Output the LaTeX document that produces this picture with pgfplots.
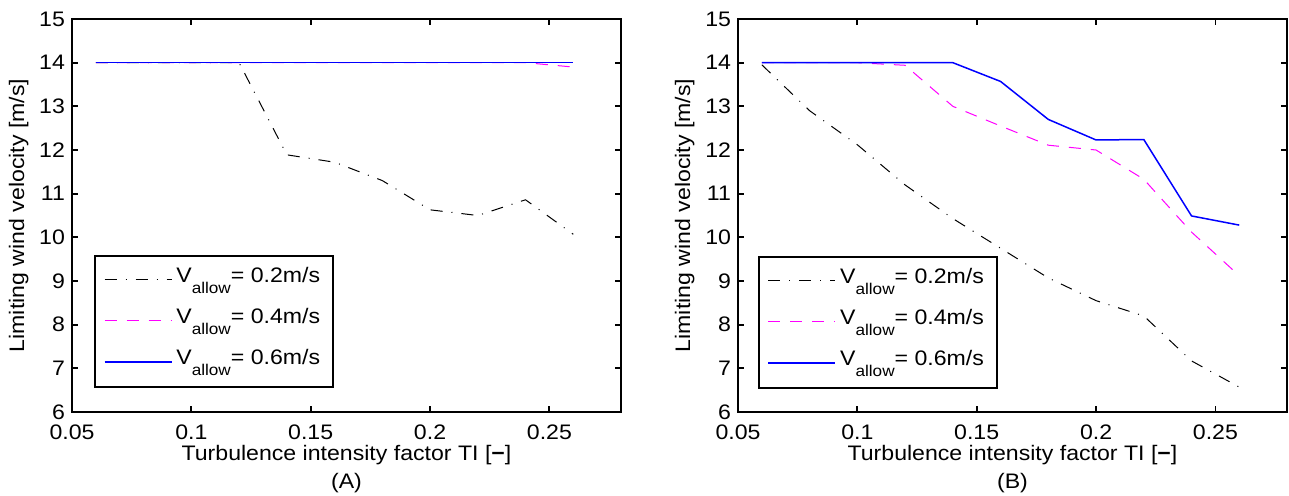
\documentclass[border=0pt]{standalone}
\usepackage{fontspec}
\setmainfont{Liberation Sans}[FakeStretch=1.1]
\usepackage{pgfplots}
\pgfplotsset{compat=1.18}
\newcommand\sub[1]{\raisebox{-5.5pt}{\fontsize{7.8}{8}\selectfont #1}}
\definecolor{mag}{rgb}{1,0,1}
\definecolor{blu}{rgb}{0,0,1}
\pgfplotsset{
  myaxis/.style={
    scale only axis, width=274.5pt, height=196.5pt,
    xmin=0.05, xmax=0.28, ymin=6, ymax=15,
    xtick={0.05,0.1,0.15,0.2,0.25}, xticklabels={0.05,0.1,0.15,0.2,0.25},
    ytick={6,7,8,9,10,11,12,13,14,15}, yticklabels={6,7,8,9,10,11,12,13,14,15},
    tick align=inside, tick pos=both,
    major tick length=3pt,
    axis line style={line width=0.9pt},
    every tick/.style={line width=0.9pt, black},
    font=\fontsize{10.5}{14}\selectfont,
    tick label style={font=\fontsize{10.5}{14}\selectfont},
    xticklabel style={yshift=-3pt},
    ylabel={Limiting wind velocity [m/s]},
    ylabel style={at={(axis description cs:-0.097,0.5)}, anchor=center, inner sep=0pt},
    xlabel style={at={(axis description cs:0.5,0)}, anchor=north, yshift=-16.5pt, inner sep=0pt, align=center},
    legend cell align=left,
    legend style={anchor=south west, draw=black, line width=0.9pt, fill=white,
      inner xsep=4.5pt, inner ysep=3.6pt, row sep=3.2pt, column sep=0pt,
      nodes={inner sep=2pt, text height=7.5pt, text depth=5.8pt},
      font=\fontsize{10.5}{14}\selectfont},
    legend image code/.code={\draw[#1] (0pt,0.4pt) -- (33.5pt,0.4pt);},
  },
  ddot/.style={black, line width=0.5pt, dash pattern=on 6pt off 4.5pt on 0.5pt off 4.5pt},
  ddash/.style={mag, line width=0.5pt, dash pattern=on 6pt off 5pt},
  dsolid/.style={blu, line width=0.75pt},
}
\begin{document}
\begin{tikzpicture}
\path[use as bounding box] (0,0) rectangle (644.5pt,248pt);
\begin{axis}[myaxis, at={(36pt,42pt)}, anchor=south west,
  xlabel={Turbulence intensity factor TI [\textbf{−}]\\(A)},
  legend style={at={(0.04,0.061)}}]
\addplot[ddot] coordinates {(0.06,14)(0.08,14)(0.1,14)(0.12,14)(0.14,11.89)(0.16,11.72)(0.18,11.3)(0.2,10.63)(0.22,10.5)(0.24,10.86)(0.26,10.07)};
\addplot[ddash] coordinates {(0.06,14)(0.08,14)(0.1,14)(0.12,14)(0.14,14)(0.16,14)(0.18,14)(0.2,14)(0.22,14)(0.24,14)(0.26,13.9)};
\addplot[dsolid] coordinates {(0.06,14)(0.08,14)(0.1,14)(0.12,14)(0.14,14)(0.16,14)(0.18,14)(0.2,14)(0.22,14)(0.24,14)(0.26,14)};
\addlegendentry{V\sub{allow}= 0.2m/s}
\addlegendentry{V\sub{allow}= 0.4m/s}
\addlegendentry{V\sub{allow}= 0.6m/s}
\end{axis}
\begin{axis}[myaxis, at={(369pt,42pt)}, anchor=south west,
  xlabel={Turbulence intensity factor TI [\textbf{−}]\\(B)},
  legend style={at={(0.036,0.0585)}}]
\addplot[ddot] coordinates {(0.06,13.95)(0.08,12.9)(0.1,12.12)(0.12,11.2)(0.14,10.43)(0.16,9.75)(0.18,9.07)(0.2,8.55)(0.22,8.2)(0.24,7.17)(0.26,6.57)};
\addplot[ddash] coordinates {(0.06,14)(0.08,14)(0.1,14)(0.12,13.94)(0.14,13.0)(0.16,12.55)(0.18,12.11)(0.2,12.0)(0.22,11.33)(0.24,10.12)(0.26,9.12)};
\addplot[dsolid] coordinates {(0.06,14)(0.08,14)(0.1,14)(0.12,14)(0.14,14)(0.16,13.57)(0.18,12.7)(0.2,12.23)(0.22,12.24)(0.24,10.49)(0.26,10.28)};
\addlegendentry{V\sub{allow}= 0.2m/s}
\addlegendentry{V\sub{allow}= 0.4m/s}
\addlegendentry{V\sub{allow}= 0.6m/s}
\end{axis}
\end{tikzpicture}
\end{document}
